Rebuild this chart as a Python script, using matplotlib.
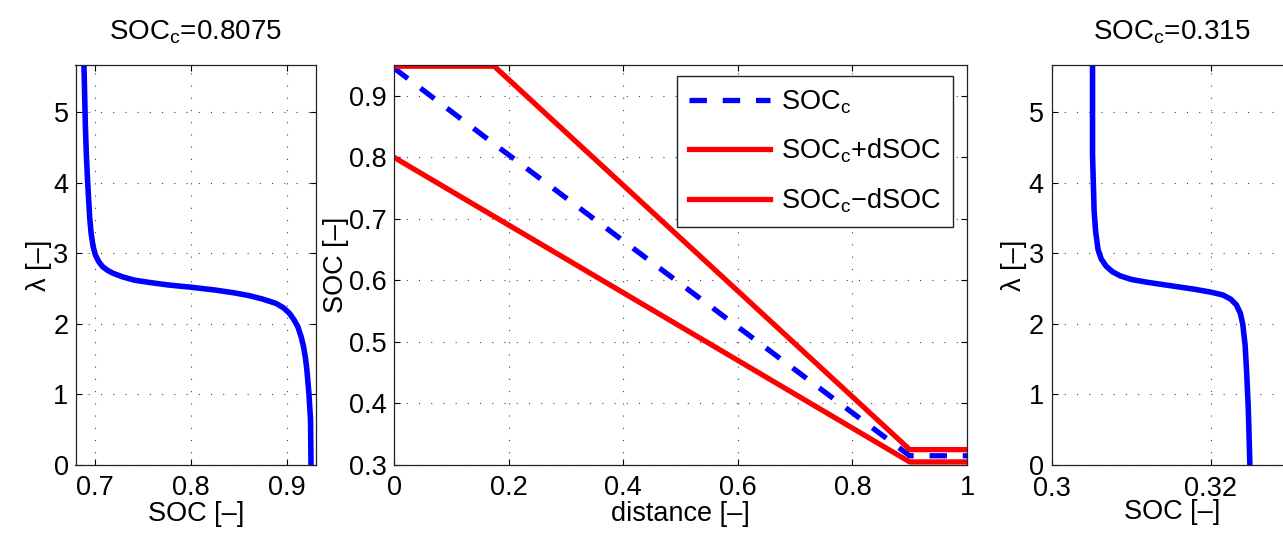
import matplotlib
matplotlib.use('Agg')
import matplotlib.pyplot as plt
import numpy as np

plt.rcParams['font.family'] = ['Liberation Sans', 'DejaVu Sans']
plt.rcParams['mathtext.default'] = 'regular'
plt.rcParams['font.size'] = 19.5

# left panel: lambda vs SOC for SOC_c = 0.8075
left_soc = [0.6885, 0.6893, 0.6900, 0.6910, 0.6922, 0.6934, 0.6945, 0.6960, 0.6980,
            0.7003, 0.7040, 0.7080, 0.7130, 0.7184, 0.7280, 0.7410, 0.7580, 0.7774,
            0.8000, 0.8250, 0.8450, 0.8607, 0.8750, 0.8885, 0.8960, 0.9024, 0.9070,
            0.9111, 0.9145, 0.9170, 0.9190, 0.9205, 0.9226, 0.9243, 0.9248]
left_lam = [5.67, 5.2, 4.8, 4.4, 4.05, 3.76, 3.50, 3.28, 3.10,
            2.98, 2.88, 2.81, 2.76, 2.72, 2.67, 2.62, 2.585, 2.55,
            2.52, 2.48, 2.44, 2.40, 2.35, 2.29, 2.23, 2.15, 2.06,
            1.96, 1.82, 1.68, 1.52, 1.35, 1.02, 0.64, 0.0]

# middle panel: SOC bounds along the distance
dist = [0.0, 0.175, 0.9, 1.0]
soc_c = [0.945, 0.8215, 0.315, 0.315]
soc_plus = [0.948, 0.948, 0.325, 0.325]
soc_minus = [0.80, 0.70375, 0.305, 0.305]

# right panel: lambda vs SOC for SOC_c = 0.315
right_soc = [0.3051, 0.3051, 0.3051, 0.3052, 0.3053, 0.3055, 0.3058, 0.3062, 0.3068,
             0.3076, 0.3086, 0.3100, 0.3120, 0.3150, 0.3180, 0.3200, 0.3215, 0.3225,
             0.3232, 0.3237, 0.3240, 0.3243, 0.3245, 0.3247, 0.3249]
right_lam = [5.67, 5.0, 4.4, 4.0, 3.6, 3.3, 3.05, 2.92, 2.82,
             2.74, 2.68, 2.63, 2.59, 2.54, 2.49, 2.45, 2.41, 2.35,
             2.27, 2.15, 2.0, 1.7, 1.3, 0.8, 0.0]

W, H = 1283, 537
fig = plt.figure(figsize=(W / 100, H / 100), dpi=100)


def box(x0, x1, y0, y1):
    return [x0 / W, 1 - y1 / H, (x1 - x0) / W, (y1 - y0) / H]


def style(ax):
    ax.grid(True, color='#444444', linestyle=(0, (1, 10)), linewidth=0.8)
    ax.tick_params(direction='in', length=4, width=0.8, top=True, right=True)
    ax.tick_params(axis='x', pad=7)
    ax.tick_params(axis='y', pad=5)
    for s in ax.spines.values():
        s.set_linewidth(0.9)
        s.set_color('#222222')


sub = 'SOC$_{c}$'

# left
ax1 = fig.add_axes(box(75.5, 316, 65, 465))
ax1.plot(left_soc, left_lam, color='#0000ff', linewidth=4, solid_capstyle='butt',
         solid_joinstyle='round')
ax1.set_xlim(0.6797, 0.930)
ax1.set_ylim(0, 5.67)
ax1.set_xticks([0.7, 0.8, 0.9])
ax1.set_xticklabels(['0.7', '0.8', '0.9'])
ax1.set_yticks(range(6))
ax1.set_xlabel('SOC [\u2013]', labelpad=0)
ax1.set_ylabel('\u03bb [\u2013]', labelpad=1)
ax1.set_title(sub + '=0.8075', pad=18, fontsize=20)
style(ax1)

# middle
ax2 = fig.add_axes(box(394, 967, 65, 465))
ax2.plot(dist, soc_c, color='#0000ff', linewidth=3.8, linestyle=(0, (3.3, 3.0)),
         label=sub)
ax2.plot(dist, soc_plus, color='#ff0000', linewidth=3.8, label=sub + '+dSOC')
ax2.plot(dist, soc_minus, color='#ff0000', linewidth=3.8, label=sub + '\u2212dSOC')
ax2.set_xlim(0, 1)
ax2.set_ylim(0.3, 0.95)
ax2.set_xticks([0, 0.2, 0.4, 0.6, 0.8, 1])
ax2.set_xticklabels(['0', '0.2', '0.4', '0.6', '0.8', '1'])
ax2.set_yticks([0.3, 0.4, 0.5, 0.6, 0.7, 0.8, 0.9])
ax2.set_yticklabels(['0.3', '0.4', '0.5', '0.6', '0.7', '0.8', '0.9'])
ax2.set_xlabel('distance [\u2013]', labelpad=0)
ax2.set_ylabel('SOC [\u2013]', labelpad=0)
style(ax2)
leg = ax2.legend(loc='upper right', bbox_to_anchor=(0.9756, 0.9725), borderaxespad=0,
                 fancybox=False, framealpha=1, edgecolor='#222222', fontsize=19.5,
                 handlelength=3.0, handletextpad=0.4, labelspacing=0.78,
                 borderpad=0.45)
leg.get_frame().set_linewidth(1.0)

# right
ax3 = fig.add_axes(box(1052, 1292, 65, 465))
ax3.plot(right_soc, right_lam, color='#0000ff', linewidth=4, solid_capstyle='butt',
         solid_joinstyle='round')
ax3.set_xlim(0.3, 0.3302)
ax3.set_ylim(0, 5.67)
ax3.set_xticks([0.3, 0.32])
ax3.set_xticklabels(['0.3', '0.32'])
ax3.set_yticks(range(6))
ax3.set_xlabel('SOC [\u2013]', labelpad=-2)
ax3.set_ylabel('\u03bb [\u2013]', labelpad=1)
ax3.set_title(sub + '=0.315', pad=18, fontsize=20)
style(ax3)
ax3.tick_params(axis='x', pad=8)
ax3.tick_params(axis='y', pad=6)

fig.savefig('out.png', dpi=100)
